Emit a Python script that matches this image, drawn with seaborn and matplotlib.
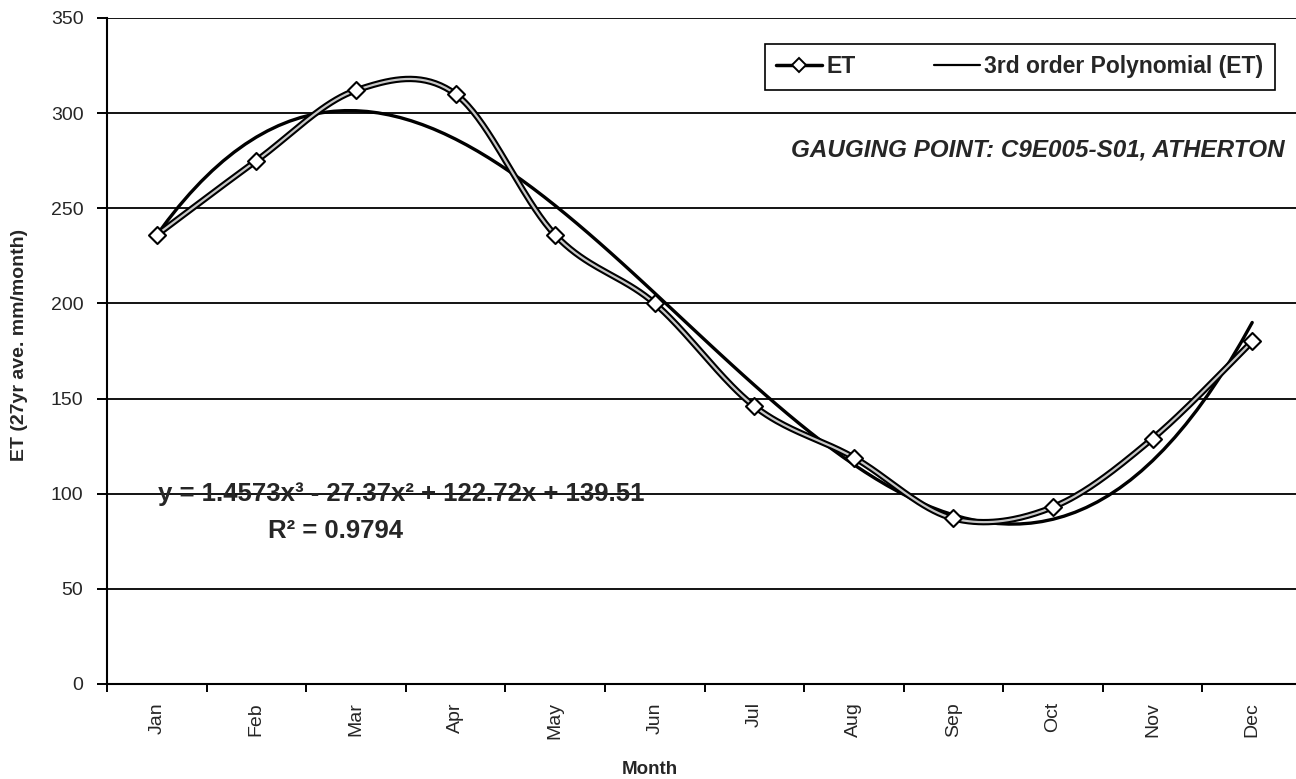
import numpy as np
import pandas as pd
import matplotlib
matplotlib.use("Agg")
import matplotlib.pyplot as plt
import matplotlib.patheffects as pe
from matplotlib.lines import Line2D
import seaborn as sns

# ---------------- data ----------------
months = ["Jan", "Feb", "Mar", "Apr", "May", "Jun",
          "Jul", "Aug", "Sep", "Oct", "Nov", "Dec"]
et_values = [236, 275, 312, 310, 236, 200, 146, 119, 87, 93, 129, 180]
y_ticks = [0, 50, 100, 150, 200, 250, 300, 350]
equation_text = "y = 1.4573x³ - 27.37x² + 122.72x + 139.51"
r2_text = "R² = 0.9794"
station_text = "GAUGING POINT: C9E005-S01, ATHERTON"
legend_labels = ["ET", "3rd order Polynomial (ET)"]

sns.set_theme(style="white")
plt.rcParams["font.family"] = ["Liberation Sans", "DejaVu Sans"]

df = pd.DataFrame({"pos": np.arange(len(months)), "month": months, "ET": et_values})


def excel_smooth(x, y, n=40):
    """Excel-style smoothed line (Catmull-Rom Bezier) through the points."""
    x = np.asarray(x, float)
    y = np.asarray(y, float)
    xs, ys = [], []
    m = len(x)
    for i in range(m - 1):
        i0 = max(i - 1, 0)
        i3 = min(i + 2, m - 1)
        p0 = np.array([x[i], y[i]])
        p3 = np.array([x[i + 1], y[i + 1]])
        c1 = p0 + (p3 - np.array([x[i0], y[i0]])) / 6
        c2 = p3 - (np.array([x[i3], y[i3]]) - p0) / 6
        t = np.linspace(0, 1, n, endpoint=(i == m - 2))[:, None]
        pts = ((1 - t) ** 3) * p0 + 3 * ((1 - t) ** 2) * t * c1 + 3 * (1 - t) * t ** 2 * c2 + t ** 3 * p3
        xs.append(pts[:, 0])
        ys.append(pts[:, 1])
    return np.concatenate(xs), np.concatenate(ys)


sx, sy = excel_smooth(df["pos"], df["ET"])
smooth_df = pd.DataFrame({"pos": sx, "ET": sy})

W, H = 1296, 779
fig = plt.figure(figsize=(W / 100, H / 100), dpi=100)
ax_l, ax_r, ax_t, ax_b = 107, 1302, 18, 684
ax = fig.add_axes([ax_l / W, 1 - ax_b / H, (ax_r - ax_l) / W, (ax_b - ax_t) / H])

# horizontal gridlines
for v in y_ticks[1:]:
    ax.axhline(v, color="black", lw=1.3, zorder=1)

# 3rd-order polynomial trendline
sns.regplot(data=df, x="pos", y="ET", order=3, ci=None, scatter=False,
            truncate=True, ax=ax,
            line_kws=dict(color="black", lw=2.4, zorder=3))

# smoothed ET line (hollow look)
sns.lineplot(data=smooth_df, x="pos", y="ET", ax=ax, color="#c8c8c8", lw=1.6,
             sort=False, zorder=4,
             path_effects=[pe.Stroke(linewidth=4.6, foreground="black"), pe.Normal()])
sns.scatterplot(data=df, x="pos", y="ET", ax=ax, marker="D", s=75,
                facecolor="white", edgecolor="black", linewidth=1.5, zorder=5)

ax.set_xlim(-0.5, 11.5)
ax.set_ylim(0, 350)
ax.set_yticks(y_ticks)
ax.set_yticklabels([str(v) for v in y_ticks], fontsize=14)
ax.set_xticks(np.arange(-0.5, 12, 1.0))
ax.set_xticklabels([])
ax.set_xticks(np.arange(len(months)), minor=True)
ax.set_xticklabels(months, minor=True, rotation=90, fontsize=14)
ax.tick_params(axis="x", which="major", direction="out", length=6, width=1.4,
               bottom=True, color="black")
ax.tick_params(axis="x", which="minor", length=0, pad=13)
ax.tick_params(axis="y", direction="out", length=7, width=1.4, left=True,
               color="black", pad=10)
ax.set_xlabel("")
ax.set_ylabel("")

for s in ["top", "right"]:
    ax.spines[s].set_visible(False)
for s in ["left", "bottom"]:
    ax.spines[s].set_color("black")
    ax.spines[s].set_linewidth(1.5)

# axis titles
fig.text(20 / W, 1 - 345 / H, "ET (27yr ave. mm/month)", rotation=90,
         ha="center", va="center", fontsize=14, fontweight="bold")
fig.text(650 / W, 1 - 770 / H, "Month", ha="center", va="center",
         fontsize=13.5, fontweight="bold")

# equation annotations
fig.text(401 / W, 1 - 494 / H, equation_text, ha="center", va="center",
         fontsize=18.5, fontweight="bold")
fig.text(336 / W, 1 - 531 / H, r2_text, ha="center", va="center",
         fontsize=18.5, fontweight="bold")

# station label
fig.text(1285 / W, 1 - 150 / H, station_text, ha="right", va="center",
         fontsize=17.5, fontweight="bold", fontstyle="italic")

# legend
handles = [
    Line2D([0], [0], color="black", lw=2.5, marker="D", markersize=7,
           markerfacecolor="white", markeredgecolor="black", markeredgewidth=1.4),
    Line2D([0], [0], color="black", lw=1.6),
]
leg = ax.legend(handles, legend_labels, ncol=2, loc="upper left",
                bbox_to_anchor=((765 - ax_l) / (ax_r - ax_l), 1 - (44 - ax_t) / (ax_b - ax_t)),
                frameon=True, fancybox=False, edgecolor="black", framealpha=1,
                prop=dict(size=16.5, weight="bold"), handlelength=2.0,
                handletextpad=0.2, columnspacing=3.4, borderpad=0.5,
                borderaxespad=0)
leg.get_frame().set_linewidth(1.2)

fig.savefig("out.png", dpi=100, facecolor="white")
